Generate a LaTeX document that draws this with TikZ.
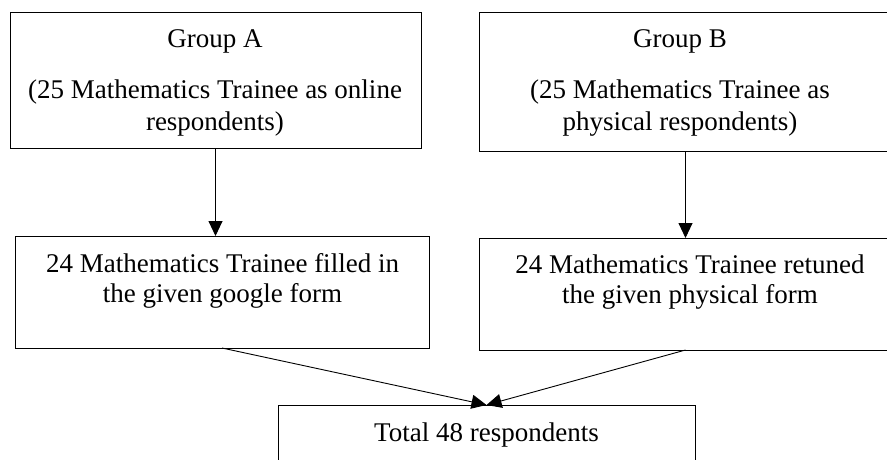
\documentclass[tikz,border=0pt]{standalone}
\usepackage{fontspec}
\setmainfont{Liberation Serif}
\usetikzlibrary{arrows.meta}
\begin{document}
\begin{tikzpicture}[x=1pt,y=-1pt,
  box/.style={draw=black, line width=0.9pt, rectangle, inner sep=0pt, outer sep=0pt},
  txt/.style={anchor=base, inner sep=0pt, font=\fontsize{27}{31}\selectfont, text=black},
  conn/.style={draw=black, line width=0.9pt, -{Triangle[width=14pt,length=15pt]}}]
\useasboundingbox (0,0) rectangle (887,459);
\clip (0,0) rectangle (887,459);
% boxes
\node[box, minimum width=411pt, minimum height=136pt] (a) at (215.5,80) {};
\node[box, minimum width=413pt, minimum height=139pt] (b) at (685.5,81.5) {};
\node[box, minimum width=414pt, minimum height=112pt] (a2) at (222,292) {};
\node[box, minimum width=413pt, minimum height=112pt] (b2) at (685.5,294) {};
\node[box, minimum width=417pt, minimum height=80pt] (t) at (486.5,445) {};
% texts
\node[txt] (ta1) at (215,47) {Group A};
\node[txt] (ta2) at (215,98) {(25 Mathematics Trainee as online};
\node[txt] (ta3) at (215,130) {respondents)};
\node[txt] (tb1) at (680,47) {Group B};
\node[txt] (tb2) at (680,98) {(25 Mathematics Trainee as};
\node[txt] (tb3) at (680,130) {physical respondents)};
\node[txt] (ta4) at (222.5,272) {24 Mathematics Trainee filled in};
\node[txt] (ta5) at (222.5,302) {the given google form};
\node[txt] (tb4) at (690,273) {24 Mathematics Trainee retuned};
\node[txt] (tb5) at (690,303) {the given physical form};
\node[txt] (tt) at (486.5,441) {Total 48 respondents};
% connectors
\draw[conn] (a.south) -- (a.south |- a2.north);
\draw[conn] (b.south) -- (b.south |- b2.north);
\draw[conn] (a2.south) -- (t.north);
\draw[conn] (b2.south) -- (t.north);
\end{tikzpicture}
\end{document}
